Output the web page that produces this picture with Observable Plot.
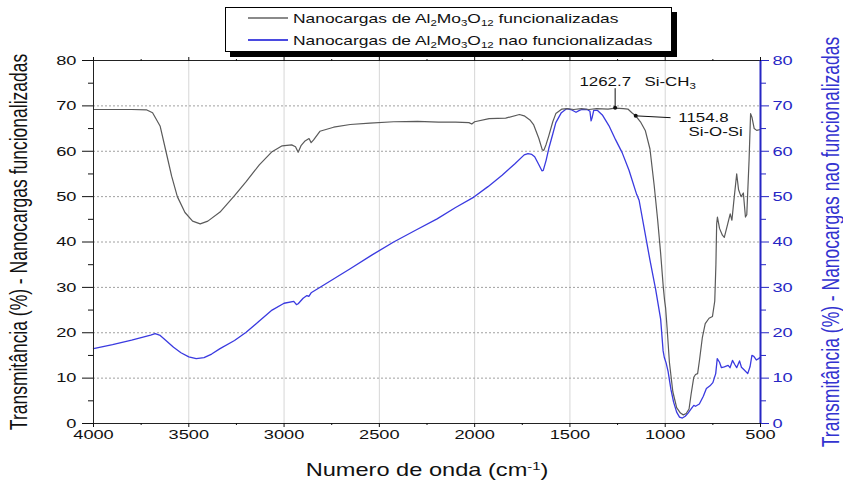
<!DOCTYPE html>
<html><head><meta charset="utf-8">
<script src="https://cdn.jsdelivr.net/npm/d3@7"></script>
<script src="https://cdn.jsdelivr.net/npm/@observablehq/plot@0.6"></script>
<style>
html,body{margin:0;padding:0;background:#fff;}
#wrap{position:relative;width:843px;height:484px;overflow:hidden;font-family:"Liberation Sans",Arial,sans-serif;background:#fff;}
#chart{position:absolute;left:0;top:0;}
#legend{position:absolute;left:225px;top:7px;width:447px;height:45px;border:1px solid #000;background:#fff;box-shadow:5px 5px 0 #000;box-sizing:border-box;}
.row{position:absolute;left:22px;height:16px;display:flex;align-items:center;}
.sw{width:40px;height:1.5px;margin-right:5px;flex:none;}
.lt{font-size:12.9px;white-space:nowrap;transform:scaleX(1.35);transform-origin:left center;color:#111;}
.lt sub{font-size:8.5px;vertical-align:-3px;line-height:0;}
</style></head>
<body>
<div id="wrap">
  <div id="chart"></div>
  <div id="legend">
    <div class="row" style="top:2px"><span class="sw" style="background:#8a8a8a"></span><span class="lt">Nanocargas de Al<sub>2</sub>Mo<sub>3</sub>O<sub>12</sub> funcionalizadas</span></div>
    <div class="row" style="top:24px"><span class="sw" style="background:#4a4ae0"></span><span class="lt">Nanocargas de Al<sub>2</sub>Mo<sub>3</sub>O<sub>12</sub> nao funcionalizadas</span></div>
  </div>
</div>
<script>
// ---- Data: functionalized nanofillers (gray, left axis) ----
const wnFunc = [4000,3900,3800,3720,3690,3650,3620,3590,3560,3520,3480,3440,3400,3336,3260,3199,3130,3063,3010,2960,2940,2926,2910,2892,2869,2858,2845,2812,2740,2653,2550,2425,2300,2189,2100,2030,2015,2000,1924,1837,1765,1740,1710,1690,1663,1645,1637,1625,1611,1590,1574,1542,1515,1480,1440,1400,1360,1300,1262.7,1220,1196,1175,1154.8,1130,1104,1080,1058,1040,1024,1010,1003,998,990,978,960,940,920,905,890,875,864,850,841,830,820,805,790,770,752,740,734,730,726,715,700,690,675,659,650,640,625,615,602,590,579,572,560,552,545,533,520,500];
const tFunc  = [69.2,69.2,69.2,69.1,68.5,65.5,60.0,54.5,50.0,46.5,44.6,44.0,44.6,46.6,50.2,53.3,57.0,59.9,61.2,61.4,61.0,59.8,61.3,62.2,62.8,61.9,62.5,64.4,65.3,65.9,66.2,66.5,66.6,66.4,66.4,66.3,66.0,66.5,67.2,67.3,68.1,67.8,66.9,65.8,62.8,60.3,60.2,61.5,63.4,66.5,68.3,69.3,69.4,69.2,69.4,69.2,69.4,69.3,69.5,69.4,69.3,68.5,67.8,66.5,64.5,60.5,52.5,45.0,37.5,30.0,27.0,25.5,21.0,13.5,7.0,3.5,2.3,1.9,2.2,3.2,6.5,10.2,10.8,11.0,14.0,19.0,22.0,23.2,23.6,27.0,35.0,44.0,45.5,43.0,41.5,41.0,43.5,46.2,44.8,49.0,55.0,51.5,50.0,50.8,45.5,46.0,58.0,68.3,67.5,65.0,64.6,64.8];

// ---- Data: non-functionalized nanofillers (blue, right axis) ----
const wnNF = [4000,3900,3800,3700,3677,3650,3620,3580,3541,3500,3461,3420,3380,3336,3260,3199,3130,3063,3000,2949,2935,2926,2900,2880,2870,2858,2800,2700,2653,2540,2425,2310,2197,2100,2004,1930,1856,1790,1740,1720,1700,1685,1665,1647,1640,1625,1611,1590,1574,1545,1516,1490,1468,1450,1437,1410,1395,1389,1383,1375,1355,1330,1295,1260,1226,1190,1150,1137,1080,1050,1024,1011,1005,995,985,970,956,940,925,910,895,880,864,850,841,821,800,784,765,750,735,727,715,705,690,670,660,647,635,625,610,600,585,567,555,545,535,522,510,500];
const tNF  = [16.5,17.4,18.4,19.5,19.8,19.4,18.3,16.8,15.6,14.7,14.3,14.5,15.3,16.5,18.3,20.1,22.6,25.0,26.5,26.9,26.2,26.4,27.6,28.2,28.0,28.8,30.3,32.9,34.1,37.1,40.0,42.6,45.1,47.6,49.9,52.2,54.7,57.2,59.2,59.5,59.3,58.8,57.2,55.7,55.8,58.0,60.6,63.8,66.3,68.5,69.4,69.1,68.6,69.0,69.2,69.2,68.8,66.7,67.5,69.0,69.0,68.0,65.6,62.5,59.7,55.8,50.5,49.2,36.0,29.5,23.0,16.0,14.6,13.3,11.5,7.5,4.7,2.5,1.4,1.2,1.6,2.3,3.2,4.0,3.8,4.3,6.0,7.7,8.3,9.0,11.0,14.3,13.5,12.3,12.5,12.8,12.3,13.9,13.0,12.3,13.8,12.4,11.8,11.0,12.5,15.0,14.8,14.0,14.3,14.6];

// ---- Ticks ----
const xMajor = [4000,3500,3000,2500,2000,1500,1000,500];
const xMinor = [3750,3250,2750,2250,1750,1250,750];
const yMajor = [0,10,20,30,40,50,60,70,80];
const yMinor = [5,15,25,35,45,55,65,75];
const yGrid = [10,20,30,40,50,60,70];
const xGrid = [3500,3000,2500,2000,1500,1000];

// ---- Annotations ----
const annText = ["1262.7", "Si-CH3", "1154.8", "Si-O-Si"];
const annX = [1450, 1109, 931, 878];
const annY = [75.2, 75.2, 67.4, 64.2];
const peakX = [1262.7, 1154.8];
const peakY = [69.6, 67.8];
const leadX1 = [1262.7, 1154.8], leadY1 = [73.9, 67.8];
const leadX2 = [1262.7, 972],   leadY2 = [69.6, 67.4];

// ---- Titles ----
const xTitle = "Numero de onda (cm-1)";
const leftTitle = "Transmitância (%) - Nanocargas funcionalizadas";
const rightTitle = "Transmitância (%) - Nanocargas nao funcionalizadas";

const gray = "#5a5a5a";
const blue = "#3a3ae0";
const blueAxis = "#2626c4";

const funcData = wnFunc.map((w, i) => ({wn: w, t: tFunc[i]}));
const nfData = wnNF.map((w, i) => ({wn: w, t: tNF[i]}));
const peaks = peakX.map((x, i) => ({x, y: peakY[i]}));
const leads = leadX1.map((x, i) => ({x1: x, y1: leadY1[i], x2: leadX2[i], y2: leadY2[i]}));
const anns = annText.map((t, i) => ({t, x: annX[i], y: annY[i]}));

const plot = Plot.plot({
  width: 843, height: 484,
  marginTop: 60, marginRight: 83, marginBottom: 61, marginLeft: 93,
  style: {fontFamily: '"Liberation Sans", Arial, sans-serif', fontSize: "13.5px", background: "transparent", overflow: "visible", color: "#111"},
  x: {domain: [4000, 500], label: null},
  y: {domain: [0, 80], label: null},
  marks: [
    Plot.gridX(xGrid, {stroke: "#d6d6d6", strokeOpacity: 1}),
    Plot.gridY(yGrid, {stroke: "#a0a0a0", strokeOpacity: 1, strokeWidth: 1, strokeDasharray: "2,2"}),
    Plot.line(nfData, {x: "wn", y: "t", stroke: blue, strokeWidth: 1.3}),
    Plot.line(funcData, {x: "wn", y: "t", stroke: gray, strokeWidth: 1.2}),
    Plot.ruleY([0], {stroke: "#222"}),
    Plot.ruleY([80], {stroke: "#222"}),
    Plot.ruleX([4000], {stroke: "#222"}),
    Plot.ruleX([500], {stroke: blueAxis, strokeWidth: 2}),
    Plot.axisX(xMajor, {anchor: "bottom", tickSize: 4, tickPadding: 2, tickFormat: d => String(d), label: xTitle, labelAnchor: "center", labelOffset: 52, labelArrow: "none"}),
    Plot.axisX(xMinor, {anchor: "bottom", tickSize: 2, tickFormat: () => "", label: null}),
    Plot.axisX(xMajor, {anchor: "top", tickSize: 4, tickFormat: () => "", label: null}),
    Plot.axisX(xMinor, {anchor: "top", tickSize: 2, tickFormat: () => "", label: null}),
    Plot.axisY(yMajor, {anchor: "left", tickSize: 11, tickPadding: 6, tickFormat: d => String(d), label: leftTitle, labelAnchor: "center", labelOffset: 83, labelArrow: "none"}),
    Plot.axisY(yMinor, {anchor: "left", tickSize: 5, tickFormat: () => "", label: null}),
    Plot.axisY(yMajor, {anchor: "right", tickSize: 8, tickPadding: 4, tickFormat: d => String(d), color: blueAxis, label: rightTitle, labelAnchor: "center", labelOffset: 78, labelArrow: "none"}),
    Plot.axisY(yMinor, {anchor: "right", tickSize: 5, tickFormat: () => "", color: blueAxis, label: null}),
    Plot.link(leads, {x1: "x1", y1: "y1", x2: "x2", y2: "y2", stroke: "#111", strokeWidth: 1}),
    Plot.dot(peaks, {x: "x", y: "y", r: 2, fill: "#111"}),
    Plot.text(anns, {x: "x", y: "y", text: "t", textAnchor: "start", fontSize: 12.5, fill: "#111"})
  ]
});

document.getElementById("chart").appendChild(plot);

// Post-processing: title sizes, sub/superscripts, horizontal stretch
const S = 1.35;
plot.querySelectorAll("text").forEach(t => {
  const c = t.textContent;
  if (c === xTitle) {
    t.setAttribute("font-size", "17.5");
    t.innerHTML = 'Numero de onda (cm<tspan dy="-6" font-size="11">-1</tspan><tspan dy="6">)</tspan>';
  } else if (c === leftTitle || c === rightTitle) {
    t.setAttribute("font-size", "17.5");
    if (c === rightTitle) t.setAttribute("fill", "#3333d0");
  } else if (c === "Si-CH3") {
    t.innerHTML = 'Si-CH<tspan dy="3" font-size="8.5">3</tspan>';
  }
});
plot.querySelectorAll("text").forEach(t => {
  const tr = t.getAttribute("transform");
  if (tr) {
    const m = tr.match(/^\s*(translate\([^)]*\))(.*)$/);
    if (m) t.setAttribute("transform", `${m[1]} scale(${S},1)${m[2]}`);
  } else {
    const x = +(t.getAttribute("x") || 0), y = +(t.getAttribute("y") || 0);
    t.removeAttribute("x"); t.removeAttribute("y");
    t.setAttribute("transform", `translate(${x},${y}) scale(${S},1)`);
  }
});
</script>
</body></html>
